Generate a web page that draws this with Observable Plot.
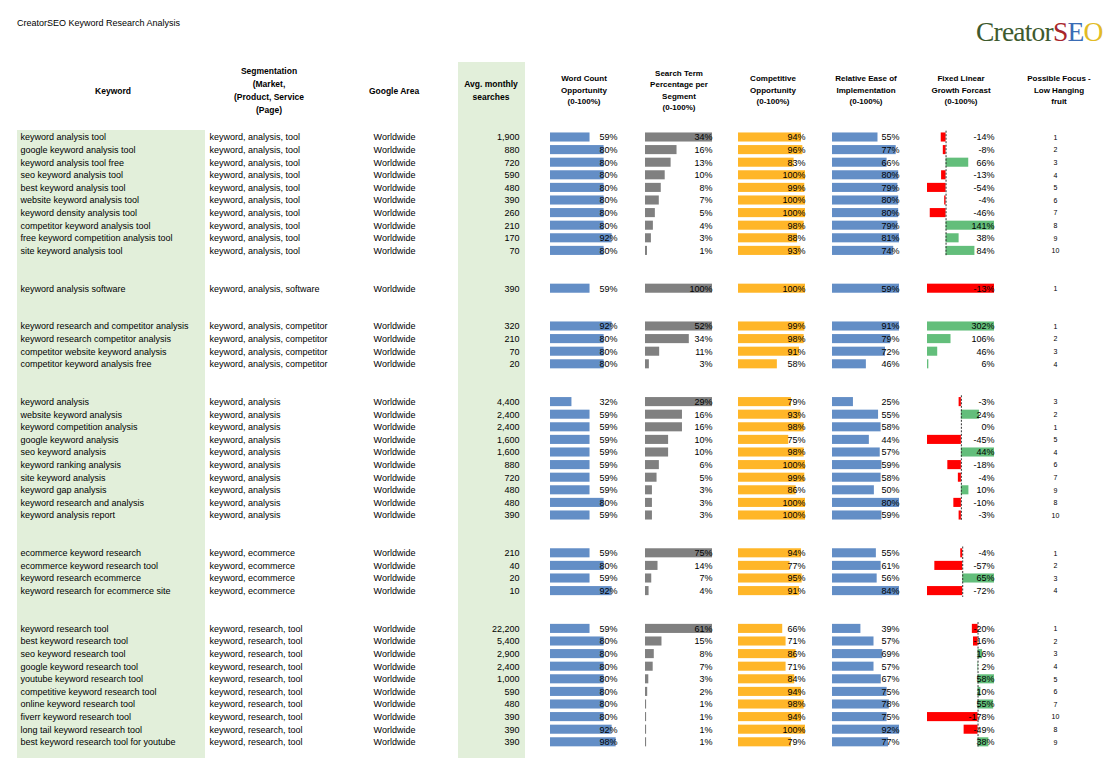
<!DOCTYPE html>
<html><head><meta charset="utf-8">
<script src="https://cdn.jsdelivr.net/npm/d3@7"></script>
<script src="https://cdn.jsdelivr.net/npm/@observablehq/plot@0.6"></script>
<style>
body{margin:0;background:#fff;font-family:"Liberation Sans",Arial,sans-serif;color:#000;}
#root{position:relative;width:1110px;height:758px;overflow:hidden;background:#fff;}
.abs{position:absolute;top:0;}
</style></head><body><div id="root"></div>
<script>
// ---------------- data ----------------
const title = "CreatorSEO Keyword Research Analysis";
const groupSegments = ["keyword, analysis, tool","keyword, analysis, software","keyword, analysis, competitor","keyword, analysis","keyword, ecommerce","keyword, research, tool"];
const groupAreas = ["Worldwide","Worldwide","Worldwide","Worldwide","Worldwide","Worldwide"];
const groupSizes = [10,1,4,10,4,10];
const keywords = [
 "keyword analysis tool","google keyword analysis tool","keyword analysis tool free","seo keyword analysis tool","best keyword analysis tool","website keyword analysis tool","keyword density analysis tool","competitor keyword analysis tool","free keyword competition analysis tool","site keyword analysis tool",
 "keyword analysis software",
 "keyword research and competitor analysis","keyword research competitor analysis","competitor website keyword analysis","competitor keyword analysis free",
 "keyword analysis","website keyword analysis","keyword competition analysis","google keyword analysis","seo keyword analysis","keyword ranking analysis","site keyword analysis","keyword gap analysis","keyword research and analysis","keyword analysis report",
 "ecommerce keyword research","ecommerce keyword research tool","keyword research ecommerce","keyword research for ecommerce site",
 "keyword research tool","best keyword research tool","seo keyword research tool","google keyword research tool","youtube keyword research tool","competitive keyword research tool","online keyword research tool","fiverr keyword research tool","long tail keyword research tool","best keyword research tool for youtube"];
const searches = [1900,880,720,590,480,390,260,210,170,70, 390, 320,210,70,20, 4400,2400,2400,1600,1600,880,720,480,480,390, 210,40,20,10, 22200,5400,2900,2400,1000,590,480,390,390,390];
const wordCount = [59,80,80,80,80,80,80,80,92,80, 59, 92,80,80,80, 32,59,59,59,59,59,59,59,80,59, 59,80,59,92, 59,80,80,80,80,80,80,80,92,98];
const searchTerm = [34,16,13,10,8,7,5,4,3,1, 100, 52,34,11,3, 29,16,16,10,10,6,5,3,3,3, 75,14,7,4, 61,15,8,7,3,2,1,1,1,1];
const competitive = [94,96,83,100,99,100,100,98,88,93, 100, 99,98,91,58, 79,93,98,75,98,100,99,86,100,100, 94,77,95,91, 66,71,86,71,84,94,98,94,100,79];
const easeImpl = [55,77,66,80,79,80,80,79,81,74, 59, 91,79,72,46, 25,55,58,44,57,59,58,50,80,59, 55,61,56,84, 39,57,69,57,67,75,78,75,92,77];
const growth = [-14,-8,66,-13,-54,-4,-46,141,38,84, -13, 302,106,46,6, -3,24,0,-45,44,-18,-4,10,-10,-3, -4,-57,65,-72, -20,-16,16,2,58,10,55,-178,-49,38];
const focus = [1,2,3,4,5,6,7,8,9,10, 1, 1,2,3,4, 3,2,1,5,4,6,7,9,8,10, 1,2,3,4, 1,2,3,4,5,6,7,10,8,9];
const headersLeft = [["Keyword"],["Segmentation","(Market,","(Product, Service","(Page)"],["Google Area"],["Avg. monthly","searches"]];
const headersRight = [["Word Count","Opportunity","(0-100%)"],["Search Term","Percentage per","Segment","(0-100%)"],["Competitive","Opportunity","(0-100%)"],["Relative Ease of","Implementation","(0-100%)"],["Fixed Linear","Growth Forcast","(0-100%)"],["Possible Focus -","Low Hanging","fruit"]];
const colors = {wc:"#638ec6", st:"#808080", comp:"#ffb628", ease:"#638ec6", pos:"#63be7b", neg:"#ff0000", green:"#e2efda"};

// ---------------- build rows ----------------
const rows = []; let k = 0, slot = 0;
const groups = [];
groupSizes.forEach((n, g) => {
  if (g > 0) slot += 2;
  const first = slot;
  for (let i = 0; i < n; i++) {
    rows.push({g, slot, keyword: keywords[k], segment: groupSegments[g], area: groupAreas[g], searches: searches[k],
      wc: wordCount[k], st: searchTerm[k], comp: competitive[k], ease: easeImpl[k], growth: growth[k], focus: focus[k]});
    k++; slot++;
  }
  groups.push({g, first, last: slot - 1});
});
groups.forEach(G => {
  const r = rows.filter(d => d.g === G.g);
  G.stMax = d3.max(r, d => d.st);
  G.easeMax = d3.max(r, d => d.ease);
  G.lo = Math.min(0, d3.min(r, d => d.growth));
  G.hi = Math.max(0, d3.max(r, d => d.growth));
  G.zero = (0 - G.lo) / (G.hi - G.lo);
});
rows.forEach(d => {
  const G = groups[d.g];
  d.gN = (d.growth - G.lo) / (G.hi - G.lo);
  d.g0 = G.zero;
});

// ---------------- layout helpers ----------------
const root = document.getElementById("root");
function box(left, top, width, height, bg) {
  const el = document.createElement("div");
  el.style.cssText = `position:absolute;left:${left}px;top:${top}px;width:${width}px;height:${height}px;background:${bg}`;
  root.appendChild(el);
}
box(17, 130, 188, 628, colors.green);
box(458, 62, 67, 696, colors.green);

const FONT = "'Liberation Sans', Arial, sans-serif";
function col(left, width, marks) {
  const svg = Plot.plot({
    width, height: 758, marginTop: 130.7, marginBottom: 9.9, marginLeft: 0, marginRight: 0,
    x: {domain: [0, 1], axis: null},
    y: {domain: [-0.5, 48.5], reverse: true, axis: null},
    color: {type: "identity"},
    style: {fontFamily: FONT, fontSize: "9px", background: "none", overflow: "visible"},
    marks
  });
  const el = document.createElement("div");
  el.className = "abs";
  el.style.left = left + "px";
  el.appendChild(svg);
  root.appendChild(el);
}
const txt = (field, anchor, extra = {}) => Plot.text(rows, {y: "slot", text: field, frameAnchor: anchor,
  textAnchor: anchor === "left" ? "start" : anchor === "right" ? "end" : "middle", fontSize: 9, fill: "#000", ...extra});
const bar = (x1, x2, fill) => Plot.rect(rows, {x1, x2, y1: d => d.slot - 0.36, y2: d => d.slot + 0.36, fill});

// text columns
col(20, 185, [txt("keyword", "left")]);
col(209, 150, [txt("segment", "left")]);
col(360, 68, [txt("area", "middle")]);
col(455, 64, [txt(d => d3.format(",")(d.searches), "right")]);
col(1030, 50, [txt(d => String(d.focus), "middle", {fontSize: 7})]);

// bar columns
const W = 67;
col(550, W, [bar(0, d => d.wc / 100, colors.wc), txt(d => d.wc + "%", "right")]);
col(645, W, [bar(0, d => d.st / groups[d.g].stMax, colors.st), txt(d => d.st + "%", "right")]);
col(738, W, [bar(0, d => d.comp / 100, colors.comp), txt(d => d.comp + "%", "right")]);
col(832, W, [bar(0, d => d.ease / groups[d.g].easeMax, colors.ease), txt(d => d.ease + "%", "right")]);
col(927, W, [
  bar(d => d.g0, d => d.gN, d => d.growth < 0 ? colors.neg : colors.pos),
  Plot.ruleX(groups.filter(G => G.lo < 0 && G.hi > 0), {x: "zero", y1: G => G.first - 0.5, y2: G => G.last + 0.5,
    stroke: "#333", strokeWidth: 1, strokeDasharray: "2,1.5"}),
  txt(d => d.growth + "%", "right")
]);

// ---------------- titles / headers ----------------
function label(html, css) {
  const el = document.createElement("div");
  el.style.cssText = "position:absolute;white-space:nowrap;" + css;
  el.innerHTML = html;
  root.appendChild(el);
  return el;
}
label(title, `left:17px;top:17px;font-size:9px;line-height:12px;`);
// logo
label(`<span style="color:#3d5a2e">Creator</span><span style="color:#a8262b">S</span><span style="color:#3a6cb5">E</span><span style="color:#e2bb26">O</span>`,
  `left:976px;top:17px;font-family:'Liberation Serif','DejaVu Serif',serif;font-size:27.5px;line-height:30px;letter-spacing:-0.8px;`);

const leftCx = [113, 269, 394, 491], leftTop = [84.5, 64.5, 84.5, 77.5];
headersLeft.forEach((lines, i) => {
  label(lines.join("<br>"), `left:${leftCx[i]}px;top:${leftTop[i]}px;font-size:8.5px;line-height:13px;font-weight:bold;text-align:center;transform:translateX(-50%);`);
});
const rightCx = [584, 679, 773, 866, 961, 1059], rightTop = [73, 67.5, 73, 73, 73, 73];
headersRight.forEach((lines, i) => {
  label(lines.join("<br>"), `left:${rightCx[i]}px;top:${rightTop[i]}px;font-size:8px;line-height:11.6px;font-weight:bold;text-align:center;transform:translateX(-50%);`);
});
</script></body></html>
